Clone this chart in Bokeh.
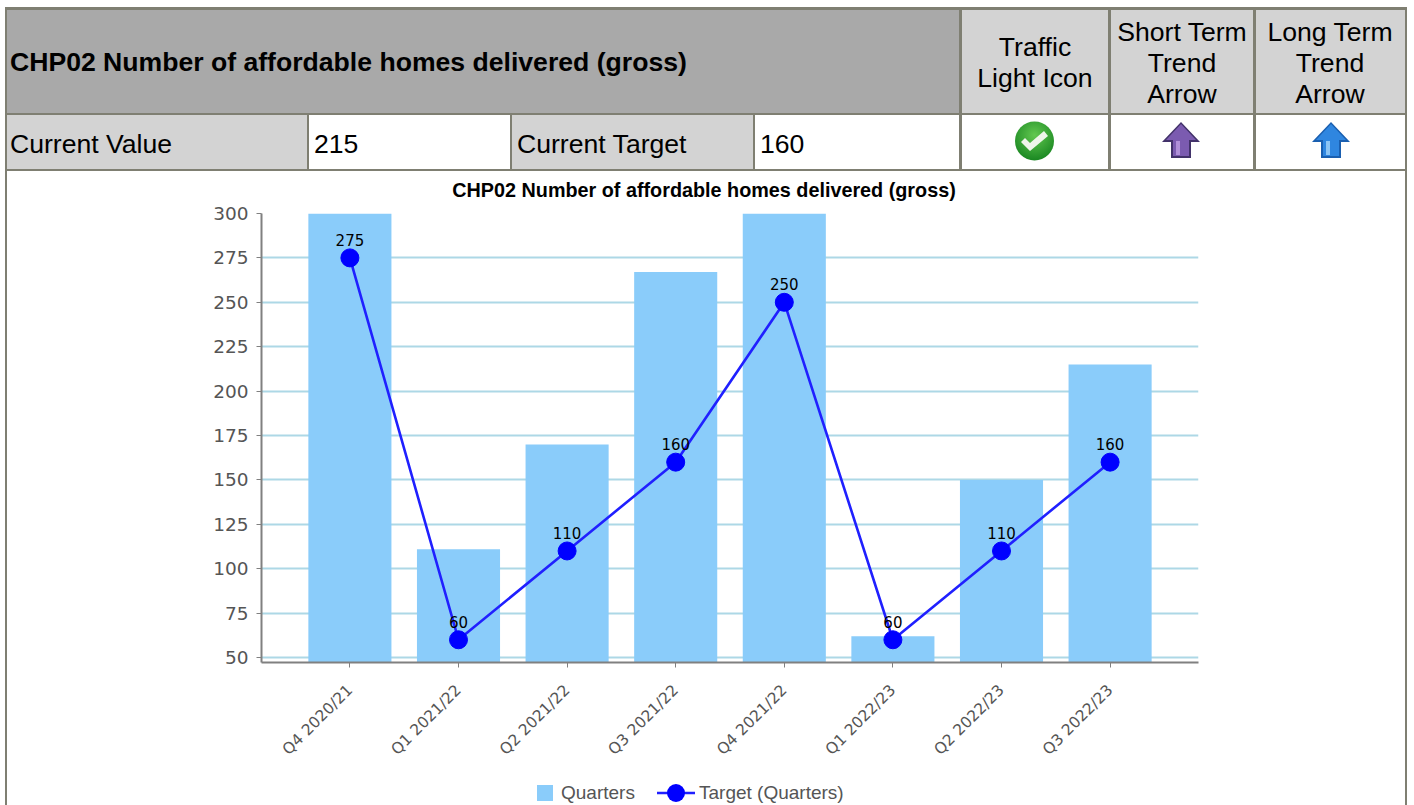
import numpy as np
from bokeh.embed import file_html
from bokeh.resources import INLINE
from bokeh.plotting import figure
from bokeh.layouts import column
from bokeh.models import Div, FactorRange, Range1d, FixedTicker, ColumnDataSource
from bokeh.core.properties import value

categories = ["Q4 2020/21", "Q1 2021/22", "Q2 2021/22", "Q3 2021/22",
              "Q4 2021/22", "Q1 2022/23", "Q2 2022/23", "Q3 2022/23"]
quarters = [320, 111, 170, 267, 320, 62, 150, 215]
target = [275, 60, 110, 160, 250, 60, 110, 160]
y_ticks = [50, 75, 100, 125, 150, 175, 200, 225, 250, 275, 300]
chart_title = "CHP02 Number of affordable homes delivered (gross)"
legend_labels = ["Quarters", "Target (Quarters)"]
current_value = "215"
current_target = "160"

BORDER = "#7f7f72"
DARK = "#a9a9a9"
LIGHT = "#d3d3d3"
AX = "#808080"
TICK_TXT = "#555555"
BAR = "#8accfa"
CHART_FONT = "DejaVu Sans"

# ---------- table header and chart title, an inline svg ----------
parts = []


def box(l, t, r, b, color):
    parts.append(f'<rect x="{l}" y="{t}" width="{r - l}" height="{b - t}" fill="{color}"/>')


def text(x, y, s, weight="normal", anchor="start"):
    parts.append(f'<text x="{x}" y="{y}" font-family="Liberation Sans" font-size="26.6px" '
                 f'font-weight="{weight}" text-anchor="{anchor}" fill="black">{s}</text>')


def poly(pts, color):
    parts.append(f'<polygon points="{" ".join(f"{x},{y}" for x, y in pts)}" fill="{color}"/>')


box(7, 10, 959, 113, DARK)
for l, r in ((962, 1108), (1111, 1253), (1256, 1405)):
    box(l, 10, r, 113, LIGHT)
for l, r in ((7, 307), (512, 753)):
    box(l, 115, r, 169, LIGHT)
box(5, 7, 1407, 10, BORDER)
box(5, 113, 1407, 115, BORDER)
box(5, 169, 1407, 171, BORDER)
box(5, 7, 7, 205, BORDER)
box(1405, 7, 1407, 205, BORDER)
for l in (959, 1108, 1253):
    box(l, 7, l + 3, 171, BORDER)
for l in (307, 510, 753):
    box(l, 115, l + 2, 171, BORDER)

text(10, 71, chart_title, weight="bold")
text(10, 153, "Current Value")
text(314, 153, current_value)
text(517, 153, "Current Target")
text(760, 153, current_target)
text(1035, 56, "Traffic", anchor="middle")
text(1035, 87, "Light Icon", anchor="middle")
for i, s in enumerate(["Short Term", "Trend", "Arrow"]):
    text(1182, 41 + 31 * i, s, anchor="middle")
for i, s in enumerate(["Long Term", "Trend", "Arrow"]):
    text(1330, 41 + 31 * i, s, anchor="middle")

parts.append('<defs><radialGradient id="gb" cx="0.5" cy="0.35" r="0.7">'
             '<stop offset="0" stop-color="#62c850"/><stop offset="1" stop-color="#14821e"/></radialGradient></defs>')
parts.append('<circle cx="1034.5" cy="141" r="19.5" fill="url(#gb)"/>')
poly([(1021, 142), (1025, 138), (1030, 143), (1044, 131), (1048, 136), (1030, 151)], "#eef5ea")


def arrow(cx, edge, fill, shine):
    poly([(cx, 122), (cx + 19, 142), (cx + 10, 142), (cx + 10, 158), (cx - 10, 158), (cx - 10, 142), (cx - 19, 142)], edge)
    poly([(cx, 124), (cx + 15, 140), (cx + 8, 140), (cx + 8, 156), (cx - 8, 156), (cx - 8, 140), (cx - 15, 140)], fill)
    poly([(cx - 5, 141), (cx - 1, 141), (cx - 1, 155), (cx - 5, 155)], shine)


arrow(1181, "#42326a", "#7b5bb0", "#b090d8")
arrow(1331, "#1a5fb0", "#2f86e0", "#8cc4f4")

parts.append(f'<text x="704" y="197" font-family="{CHART_FONT}" font-size="19.8px" font-weight="bold" '
             f'text-anchor="middle" fill="black">{chart_title}</text>')

head = Div(text='<svg xmlns="http://www.w3.org/2000/svg" width="1414" height="205" style="display:block">'
                + "".join(parts) + "</svg>", width=1414, height=205, margin=0)

# ---------- chart ----------
side_borders = (f"linear-gradient({BORDER},{BORDER}) 5px 0/2px 100% no-repeat,"
                f"linear-gradient({BORDER},{BORDER}) 1405px 0/2px 100% no-repeat,white")
p = figure(width=1414, height=570, output_backend="svg", toolbar_location=None,
           x_range=FactorRange(factors=categories, range_padding=0.314, range_padding_units="absolute"),
           y_range=Range1d(47.2, 300),
           min_border_left=261, min_border_right=216, min_border_top=8, min_border_bottom=113,
           outline_line_alpha=0, background_fill_color="white", border_fill_color=None,
           styles={"background": side_borders})

src = ColumnDataSource(dict(cat=categories, q=quarters, t=target, lab=[str(v) for v in target]))
p.vbar(x="cat", top="q", bottom=47.2, width=0.765, source=src, fill_color=BAR, line_alpha=0)
p.line(x="cat", y="t", source=src, line_color="#2020ff", line_width=2.6)
p.scatter(x="cat", y="t", source=src, size=18, fill_color="#0000ff", line_color="#0000ff")
p.text(x="cat", y="t", text="lab", source=src, text_font=value(CHART_FONT), text_font_size="15px",
       text_color="black", text_align="center", text_baseline="bottom", y_offset=-12)

p.xgrid.visible = False
p.ygrid.grid_line_color = "#add8e6"
p.ygrid.grid_line_width = 2
p.yaxis.ticker = FixedTicker(ticks=y_ticks)
for ax in (p.xaxis[0], p.yaxis[0]):
    ax.axis_line_color = AX
    ax.axis_line_width = 2
    ax.major_tick_line_color = AX
    ax.major_tick_line_width = 1
    ax.major_tick_out = 5
    ax.major_tick_in = 0
    ax.minor_tick_line_color = None
    ax.major_label_text_color = TICK_TXT
    ax.major_label_text_font = CHART_FONT
p.yaxis.major_label_text_font_size = "18.5px"
p.yaxis.major_label_standoff = 8
p.xaxis.major_label_text_font_size = "15.5px"
p.xaxis.major_label_orientation = np.pi / 4
p.xaxis.major_label_standoff = 20

# ---------- legend strip under the chart, an inline svg ----------
lg = (f'<rect x="5" y="0" width="2" height="30" fill="{BORDER}"/>'
      f'<rect x="1405" y="0" width="2" height="30" fill="{BORDER}"/>'
      f'<rect x="537" y="10" width="16" height="16" fill="{BAR}"/>'
      f'<text x="561" y="24" font-family="{CHART_FONT}" font-size="19px" fill="{TICK_TXT}">{legend_labels[0]}</text>'
      f'<line x1="657" y1="18" x2="695" y2="18" stroke="#2020ff" stroke-width="2.6"/>'
      f'<circle cx="676" cy="18" r="9" fill="#0000ff"/>'
      f'<text x="699" y="24" font-family="{CHART_FONT}" font-size="19px" fill="{TICK_TXT}">{legend_labels[1]}</text>')
foot = Div(text=f'<svg xmlns="http://www.w3.org/2000/svg" width="1414" height="30" style="display:block">{lg}</svg>',
           width=1414, height=30, margin=0)

page = column(head, p, foot, spacing=0)
open("out.html", "w").write(file_html(page, INLINE))
